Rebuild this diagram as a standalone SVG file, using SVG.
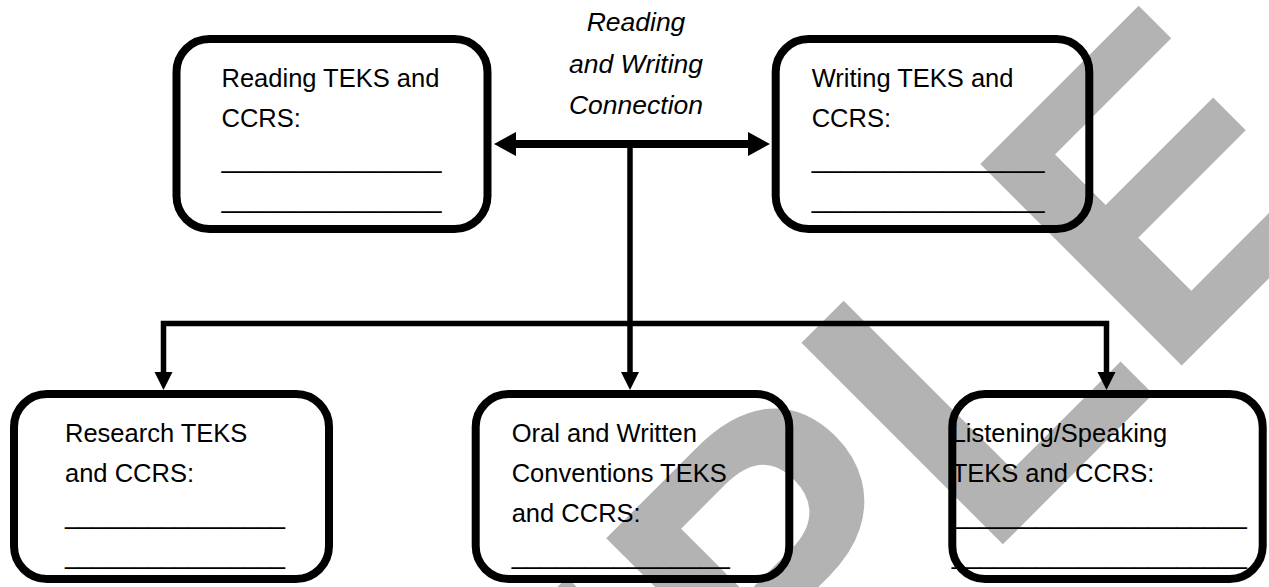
<svg xmlns="http://www.w3.org/2000/svg" width="1269" height="587" viewBox="0 0 1269 587">
<style>
.t{font-family:"Liberation Sans",Arial,sans-serif;font-size:25.5px;fill:#000}
.i{font-style:italic;font-size:26.5px}
.wm{font-family:"Liberation Sans",Arial,sans-serif;font-weight:bold;font-size:414px;fill:#b3b3b3}
.box{fill:none;stroke:#000;stroke-width:8}
.ln{fill:none;stroke:#000;stroke-width:5.5;stroke-linejoin:miter}
.ah{fill:#000}
</style>
<rect width="1269" height="587" fill="#fff"/>
<g id="watermark">
<text class="wm" transform="rotate(-45)" x="825.6" y="1094" text-anchor="end">SAMPLE</text>
</g>
<g id="connectors">
<line x1="512" y1="144" x2="752" y2="144" stroke="#000" stroke-width="8"/>
<polygon class="ah" points="494,144 516,132 516,156"/>
<polygon class="ah" points="770,144 748,132 748,156"/>
<line class="ln" x1="630" y1="144" x2="630" y2="375"/>
<polygon class="ah" points="630,390 621,372 639,372"/>
<polyline class="ln" points="163.5,375 163.5,323.5 1106.5,323.5 1106.5,375"/>
<polygon class="ah" points="163.5,390 154.5,372 172.5,372"/>
<polygon class="ah" points="1106.5,390 1097.5,372 1115.5,372"/>
</g>
<g id="center-label">
<text class="t i" x="636" y="31" text-anchor="middle">Reading</text>
<text class="t i" x="636" y="72.5" text-anchor="middle">and Writing</text>
<text class="t i" x="636" y="113.5" text-anchor="middle">Connection</text>
</g>
<g id="reading">
<rect class="box" x="176.5" y="39" width="311" height="190" rx="33"/>
<text class="t" x="221.5" y="86.7">Reading TEKS and</text>
<text class="t" x="221.5" y="126.7">CCRS:</text>
<text class="t" x="221.5" y="167.7" textLength="220" lengthAdjust="spacingAndGlyphs">________________</text>
<text class="t" x="221.5" y="207.7" textLength="220" lengthAdjust="spacingAndGlyphs">________________</text>
</g>
<g id="writing">
<rect class="box" x="775.7" y="39" width="313.6" height="190" rx="33"/>
<text class="t" x="811.7" y="86.7">Writing TEKS and</text>
<text class="t" x="811.7" y="126.7">CCRS:</text>
<text class="t" x="811.7" y="167.7" textLength="233" lengthAdjust="spacingAndGlyphs">________________</text>
<text class="t" x="811.7" y="207.7" textLength="233" lengthAdjust="spacingAndGlyphs">________________</text>
</g>
<g id="research">
<rect class="box" x="14" y="394" width="315" height="185" rx="33"/>
<text class="t" x="65" y="442">Research TEKS</text>
<text class="t" x="65" y="482">and CCRS:</text>
<text class="t" x="65" y="524.3" textLength="220" lengthAdjust="spacingAndGlyphs">________________</text>
<text class="t" x="65" y="564.3" textLength="220" lengthAdjust="spacingAndGlyphs">________________</text>
</g>
<g id="conventions">
<rect class="box" x="475.7" y="394" width="313.6" height="185" rx="33"/>
<text class="t" x="511.7" y="442">Oral and Written</text>
<text class="t" x="511.7" y="482">Conventions TEKS</text>
<text class="t" x="511.7" y="522">and CCRS:</text>
<text class="t" x="511.7" y="564.3" textLength="218" lengthAdjust="spacingAndGlyphs">_______________</text>
</g>
<g id="listening">
<rect class="box" x="952.3" y="394" width="310.4" height="185" rx="33"/>
<text class="t" x="951.7" y="442">Listening/Speaking</text>
<text class="t" x="951.7" y="482">TEKS and CCRS:</text>
<text class="t" x="951.7" y="524.3" textLength="295" lengthAdjust="spacingAndGlyphs">_____________________</text>
<text class="t" x="951.7" y="564.3" textLength="295" lengthAdjust="spacingAndGlyphs">_____________________</text>
</g>
</svg>
